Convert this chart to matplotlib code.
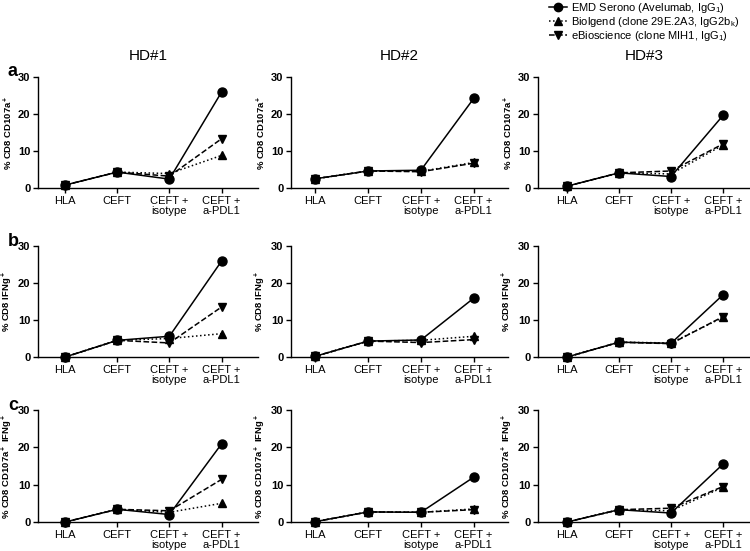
import matplotlib
matplotlib.use("Agg")
import matplotlib.pyplot as plt
from matplotlib.lines import Line2D

plt.rcParams['font.family'] = ['Liberation Sans', 'DejaVu Sans']
plt.rcParams['mathtext.fontset'] = 'custom'
plt.rcParams['mathtext.rm'] = 'Liberation Sans'
plt.rcParams['mathtext.bf'] = 'Liberation Sans:bold'

categories = ["HLA", "CEFT", "CEFT +\nisotype", "CEFT +\na-PDL1"]
donors = ["HD#1", "HD#2", "HD#3"]
row_letters = ["a", "b", "c"]
row_ylabels = [r"% CD8 CD107a$^{\bf +}$", r"% CD8 IFNg$^{\bf +}$", r"% CD8 CD107a$^{\bf +}$ IFNg$^{\bf +}$"]
series_names = [r"EMD Serono (Avelumab, IgG$_1$)",
                r"Biolgend (clone 29E.2A3, IgG2b$_\mathrm{k}$)",
                r"eBioscience (clone MIH1, IgG$_1$)"]

# values[row][donor] = (EMD, Biolegend, eBioscience)
cd107_hd1_emd = [0.8, 4.3, 2.4, 25.9]
cd107_hd1_bio = [0.8, 4.3, 3.9, 8.8]
cd107_hd1_ebi = [0.8, 4.3, 3.2, 13.3]
cd107_hd2_emd = [2.5, 4.6, 4.8, 24.2]
cd107_hd2_bio = [2.5, 4.6, 4.5, 6.9]
cd107_hd2_ebi = [2.5, 4.6, 4.4, 6.7]
cd107_hd3_emd = [0.5, 4.1, 3.1, 19.6]
cd107_hd3_bio = [0.5, 4.1, 3.8, 11.6]
cd107_hd3_ebi = [0.5, 4.1, 4.6, 11.9]

ifng_hd1_emd = [0.0, 4.5, 5.6, 25.9]
ifng_hd1_bio = [0.0, 4.5, 5.0, 6.3]
ifng_hd1_ebi = [0.0, 4.5, 3.8, 13.5]
ifng_hd2_emd = [0.2, 4.3, 4.6, 15.9]
ifng_hd2_bio = [0.2, 4.3, 4.5, 5.6]
ifng_hd2_ebi = [0.2, 4.3, 3.9, 4.7]
ifng_hd3_emd = [0.0, 4.0, 3.7, 16.8]
ifng_hd3_bio = [0.0, 4.0, 3.8, 10.7]
ifng_hd3_ebi = [0.0, 4.0, 3.6, 10.9]

dbl_hd1_emd = [0.0, 3.4, 2.0, 20.9]
dbl_hd1_bio = [0.0, 3.4, 2.6, 5.0]
dbl_hd1_ebi = [0.0, 3.4, 3.0, 11.4]
dbl_hd2_emd = [0.1, 2.7, 2.6, 12.0]
dbl_hd2_bio = [0.1, 2.7, 2.6, 3.5]
dbl_hd2_ebi = [0.1, 2.7, 2.6, 3.3]
dbl_hd3_emd = [0.0, 3.3, 2.4, 15.5]
dbl_hd3_bio = [0.0, 3.3, 3.0, 9.3]
dbl_hd3_ebi = [0.0, 3.3, 3.7, 9.5]

values = [
    [(cd107_hd1_emd, cd107_hd1_bio, cd107_hd1_ebi),
     (cd107_hd2_emd, cd107_hd2_bio, cd107_hd2_ebi),
     (cd107_hd3_emd, cd107_hd3_bio, cd107_hd3_ebi)],
    [(ifng_hd1_emd, ifng_hd1_bio, ifng_hd1_ebi),
     (ifng_hd2_emd, ifng_hd2_bio, ifng_hd2_ebi),
     (ifng_hd3_emd, ifng_hd3_bio, ifng_hd3_ebi)],
    [(dbl_hd1_emd, dbl_hd1_bio, dbl_hd1_ebi),
     (dbl_hd2_emd, dbl_hd2_bio, dbl_hd2_ebi),
     (dbl_hd3_emd, dbl_hd3_bio, dbl_hd3_ebi)],
]
yticks = [0, 10, 20, 30]

styles = [dict(ls='-', marker='o', ms=6.5),
          dict(ls=':', marker='^', ms=6),
          dict(ls='--', marker='v', ms=6)]

W, H = 750, 551
fig = plt.figure(figsize=(7.5, 5.51), dpi=100)

col_px = [(38, 258, 3.7), (291, 508, 3.65), (538, 750, 3.52)]
row_px = [(77, 188), (246, 357), (410, 522)]

x = list(range(len(categories)))
for r in range(3):
    top, bot = row_px[r]
    for c in range(3):
        l, rr, xr = col_px[c]
        ax = fig.add_axes([l / W, 1 - bot / H, (rr - l) / W, (bot - top) / H])
        for s in range(2, -1, -1):
            st = styles[s]
            ax.plot(x, values[r][c][s], color='black', lw=1.1, ls=st['ls'],
                    marker=st['marker'], ms=st['ms'], mfc='black', mec='black',
                    clip_on=False, zorder=3 + (s == 0))
        ax.set_ylim(0, 30)
        xl = -0.52 if c == 0 else (-0.46 if c == 1 else -0.56)
        ax.set_xlim(xl, xr)
        ax.set_yticks(yticks)
        ax.set_yticklabels([str(v) for v in yticks], fontweight='bold', fontsize=8)
        ax.set_xticks(x)
        ax.set_xticklabels(categories, fontsize=8, linespacing=1.1)
        ax.spines['top'].set_visible(False)
        ax.spines['right'].set_visible(False)
        ax.spines['left'].set_linewidth(1.0)
        ax.spines['bottom'].set_linewidth(1.0)
        ax.tick_params(axis='y', direction='out', length=3.5, width=1.0, pad=2)
        ax.tick_params(axis='x', direction='out', length=3.5, width=1.0, pad=2)
        ax.set_ylabel(row_ylabels[r], fontsize=6.8, fontweight='bold', labelpad=2)
        if r == 0:
            ax.set_title(donors[c], fontsize=11, pad=12)
    fig.text(8 / W, 1 - (top - 5) / H, row_letters[r], fontsize=13, fontweight='bold',
             ha='left', va='center')

# legend drawn manually in figure pixel coordinates
leg_rows = [7, 21, 35]
for st, name, yy in zip(styles, series_names, leg_rows):
    yf = 1 - yy / H
    fig.add_artist(Line2D([549 / W, 567 / W], [yf, yf], color='black', lw=1.1, ls=st['ls'],
                          transform=fig.transFigure))
    fig.add_artist(Line2D([558 / W], [yf], color='black', marker=st['marker'],
                          ms=st['ms'] - 0.5, ls='none', transform=fig.transFigure))
    fig.text(571 / W, 1 - (yy + 4) / H, name, fontsize=8, ha='left', va='baseline')

fig.savefig("out.png", dpi=100)
